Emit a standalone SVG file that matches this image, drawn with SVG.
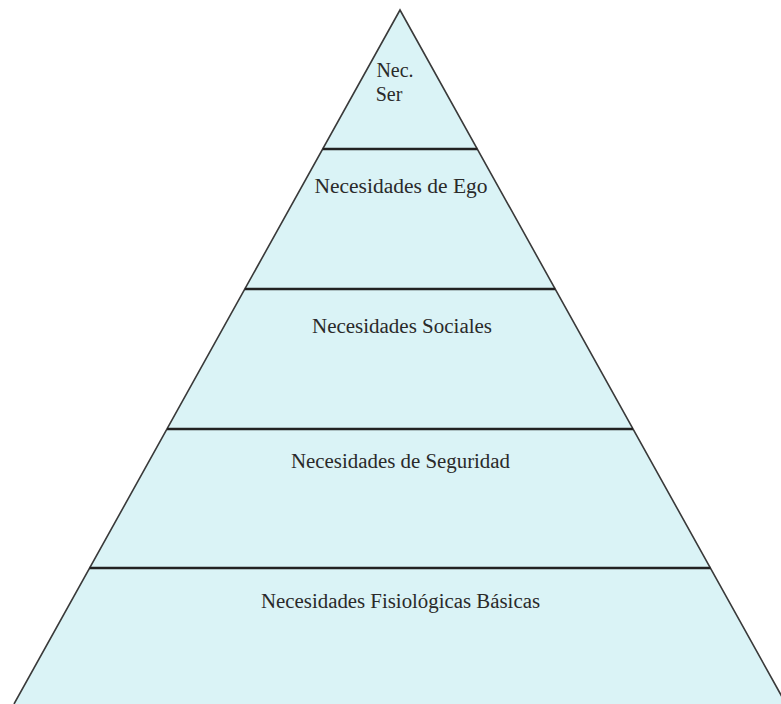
<svg xmlns="http://www.w3.org/2000/svg" width="781" height="704" viewBox="0 0 781 704">
<style>
.tier{fill:#daf3f6;stroke:none}
.lbl{font-family:"Liberation Serif","Times New Roman",serif;font-size:20px;fill:#2a2a2a;text-anchor:middle}
.edge{stroke:#3a3a3a;stroke-width:1.6;fill:none}
.sep{stroke:#222;stroke-width:2.4;fill:none}
</style>
<rect width="781" height="704" fill="#ffffff"/>
<g id="tier-ser">
<polygon class="tier" points="400,10 322.7,149 477.3,149"/>
<text class="lbl" x="395" y="77" text-anchor="middle">Nec.</text>
<text class="lbl" x="389" y="101">Ser</text>
</g>
<g id="tier-ego">
<polygon class="tier" points="322.7,149 477.3,149 555.2,289 244.8,289"/>
<text class="lbl" x="401" y="193" textLength="173" lengthAdjust="spacingAndGlyphs">Necesidades de Ego</text>
</g>
<g id="tier-sociales">
<polygon class="tier" points="244.8,289 555.2,289 633,429 167,429"/>
<text class="lbl" x="402" y="333" textLength="180" lengthAdjust="spacingAndGlyphs">Necesidades Sociales</text>
</g>
<g id="tier-seguridad">
<polygon class="tier" points="167,429 633,429 710.4,568 89.6,568"/>
<text class="lbl" x="400.5" y="468" textLength="219" lengthAdjust="spacingAndGlyphs">Necesidades de Seguridad</text>
</g>
<g id="tier-fisiologicas">
<polygon class="tier" points="89.6,568 710.4,568 786,704 14,704"/>
<text class="lbl" x="400.5" y="608" textLength="279" lengthAdjust="spacingAndGlyphs">Necesidades Fisiológicas Básicas</text>
</g>
<g id="connectors">
<polyline class="edge" points="14,704 400,10 786,704"/>
<line class="sep" x1="322.7" y1="149" x2="477.3" y2="149"/>
<line class="sep" x1="244.8" y1="289" x2="555.2" y2="289"/>
<line class="sep" x1="167" y1="429" x2="633" y2="429"/>
<line class="sep" x1="89.6" y1="568" x2="710.4" y2="568"/>
</g>
</svg>
